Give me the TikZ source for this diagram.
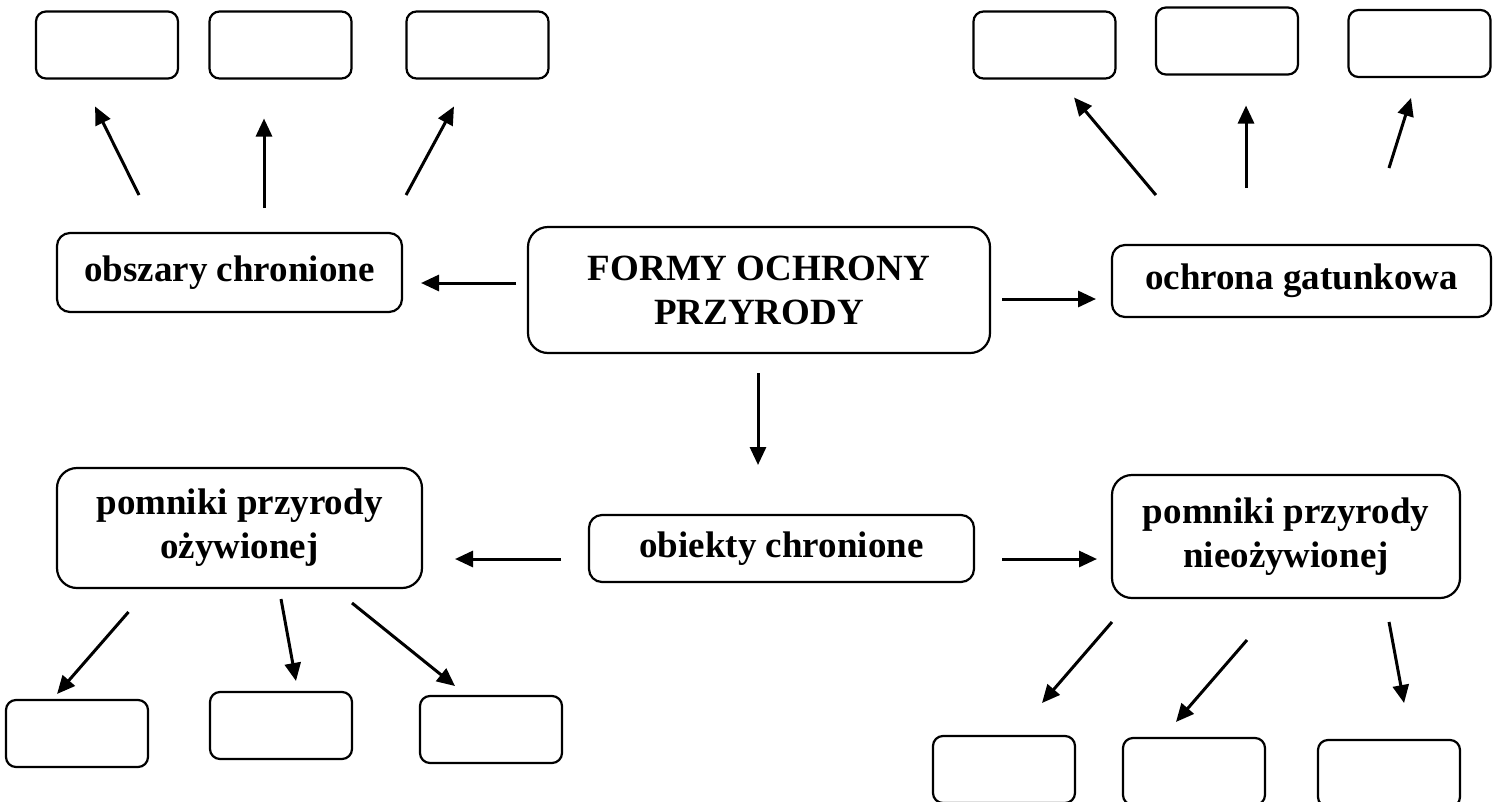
\documentclass[tikz,border=0pt]{standalone}
\usepackage{fontspec}
\setmainfont{Liberation Serif}
\usepackage{tikz}
\usetikzlibrary{arrows.meta}

\begin{document}
\begin{tikzpicture}[x=1pt,y=-1pt,>={Triangle[length=18pt,width=16pt]},
    arr/.style={->,line width=3pt},
    form node/.style={draw,rectangle,line width=2.2pt,align=center,inner sep=0pt,outer sep=0pt,
      font=\fontsize{37}{44}\selectfont\bfseries},
    empty node/.style={draw,rectangle,rounded corners=10pt,line width=2.2pt,inner sep=0pt,outer sep=0pt,
      minimum width=142pt,minimum height=67pt}]

\useasboundingbox (0,0) rectangle (1502,801);

\node[form node, minimum width=462pt, minimum height=126pt, rounded corners=20pt] (formy) at (759,290) {FORMY OCHRONY\\PRZYRODY};
\node[form node, minimum width=345pt, minimum height=79pt, rounded corners=13pt] (obszary) at (229.5,272.5) {obszary chronione};
\node[form node, minimum width=379pt, minimum height=72pt, rounded corners=13pt] (ochrona) at (1301.5,281) {ochrona gatunkowa};
\node[form node, minimum width=385pt, minimum height=67pt, rounded corners=13pt] (obiekty) at (781.5,548.5) {obiekty chronione};
\node[form node, minimum width=365pt, minimum height=120pt, rounded corners=20pt] (ozyw) at (239.5,528) {pomniki przyrody\\ożywionej};
\node[form node, minimum width=348pt, minimum height=123pt, rounded corners=20pt] (nieozyw) at (1286,536.5) {pomniki przyrody\\nieożywionej};

% puste pola do uzupelnienia
\node[empty node] (obszary1) at (107,45) {};
\node[empty node] (obszary2) at (280.5,45) {};
\node[empty node] (obszary3) at (477.5,45) {};
\node[empty node] (ochrona1) at (1044.5,45) {};
\node[empty node] (ochrona2) at (1227,41) {};
\node[empty node] (ochrona3) at (1419.5,43.5) {};
\node[empty node] (ozyw1) at (77,733.5) {};
\node[empty node] (ozyw2) at (281,725.5) {};
\node[empty node] (ozyw3) at (491,729.5) {};
\node[empty node] (nieozyw1) at (1004,769.5) {};
\node[empty node] (nieozyw2) at (1194,771.5) {};
\node[empty node] (nieozyw3) at (1389,773.5) {};

\path[arr]
([yshift=7pt]formy.west) edge [shorten <=12pt, shorten >=19pt] ([yshift=-10.5pt]obszary.east)
([yshift=-9pt]formy.east) edge [shorten <=12pt, shorten >=16pt] ([yshift=-18pt]ochrona.west)
([xshift=-1pt]formy.south) edge [shorten <=20pt, shorten >=50pt] ([xshift=-23.5pt]obiekty.north)
([yshift=-10.5pt]obiekty.west) edge [shorten <=28pt, shorten >=33pt] ([yshift=-31pt]ozyw.east)
([yshift=-10.5pt]obiekty.east) edge [shorten <=28pt, shorten >=15pt] ([yshift=-22.5pt]nieozyw.west);

\path[arr]
([xshift=-71.7pt]obszary.north) edge [shorten <=42.4pt, shorten >=31.2pt] ([xshift=-25.8pt]obszary1.south)
([xshift=34.5pt]obszary.north) edge [shorten <=25pt, shorten >=40pt] ([xshift=-16.5pt]obszary2.south)
([xshift=156pt]obszary.north) edge [shorten <=43.2pt, shorten >=31.8pt] ([xshift=-8.4pt]obszary3.south)
([xshift=-103.7pt]ochrona.north) edge [shorten <=65.2pt, shorten >=24.8pt] ([xshift=13.6pt]ochrona1.south)
([xshift=-55.5pt]ochrona.north) edge [shorten <=57pt, shorten >=31pt] ([xshift=19pt]ochrona2.south)
([xshift=63.3pt]ochrona.north) edge [shorten <=80.7pt, shorten >=22pt] ([xshift=-1.9pt]ochrona3.south);

\path[arr]
([xshift=-90.1pt]ozyw.south) edge [shorten <=31.8pt, shorten >=8pt] ([xshift=-25.2pt]ozyw1.north)
([xshift=39.5pt]ozyw.south) edge [shorten <=11.2pt, shorten >=11.2pt] ([xshift=17pt]ozyw2.north)
([xshift=93.9pt]ozyw.south) edge [shorten <=23.9pt, shorten >=15.9pt] ([xshift=-23.6pt]ozyw3.north)
([xshift=-153.3pt]nieozyw.south) edge [shorten <=31.7pt, shorten >=43.6pt] ([xshift=9.5pt]nieozyw1.north)
([xshift=-2.6pt]nieozyw.south) edge [shorten <=55.6pt, shorten >=21.2pt] ([xshift=-31.9pt]nieozyw2.north)
([xshift=98.6pt]nieozyw.south) edge [shorten <=24.4pt, shorten >=37.6pt] ([xshift=21.9pt]nieozyw3.north);

\end{tikzpicture}
\end{document}
